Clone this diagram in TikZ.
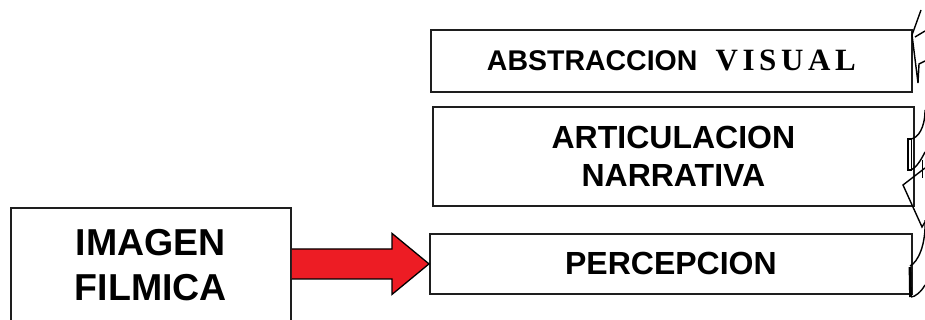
\documentclass[tikz,border=0pt]{standalone}
\usepackage{fontspec}
\setmainfont{Liberation Sans}
\newfontfamily\visfont[LetterSpace=15]{Liberation Serif}
\usetikzlibrary{calc}
\definecolor{arrowred}{HTML}{ED1C24}
\definecolor{edgegray}{HTML}{1E1E1E}
\begin{document}
\begin{tikzpicture}[x=1pt,y=-1pt,
  box/.style={draw=edgegray, line width=1.8pt, fill=white, inner sep=0pt,
              align=center, anchor=north west},
  deco/.style={draw=black, line width=1.4pt, line join=miter}]
\useasboundingbox (0,0) rectangle (925,320);
\begin{scope}
\clip (0,0) rectangle (925,320);

% source box on the left (runs past the lower edge)
\node[box, minimum width=280pt, minimum height=115pt,
      font=\bfseries\fontsize{37.5}{45}\selectfont] (img) at (10,207) {IMAGEN\\FILMICA};

% stacked boxes on the right
\node[box, minimum width=481pt, minimum height=62pt] (abs) at (430,29)
  {\bfseries\fontsize{28.5}{34}\selectfont ABSTRACCION\hspace{18pt}{\visfont\bfseries\fontsize{31}{34}\selectfont VISUAL}};
\node[box, minimum width=481pt, minimum height=99pt,
      font=\bfseries\fontsize{32}{38}\selectfont] (art) at (432,106) {ARTICULACION\\NARRATIVA};
\node[box, minimum width=482pt, minimum height=60pt,
      font=\bfseries\fontsize{32}{38}\selectfont] (perc) at (429,233) {PERCEPCION};

% block arrow from the source box to PERCEPCION
\coordinate (s) at (img.east |- perc.west);
\fill[arrowred]
  ($(s)+(0,-15)$) -- ($(perc.west)+(-37,-15)$) -- ($(perc.west)+(-37,-30.5)$) --
  (perc.west) -- ($(perc.west)+(-37,30.5)$) -- ($(perc.west)+(-37,15)$) --
  ($(s)+(0,15)$) -- cycle;
\draw[black, line width=1.3pt, line join=miter]
  ($(s)+(0,-15)$) -- ($(perc.west)+(-37,-15)$) -- ($(perc.west)+(-37,-30.5)$) --
  (perc.west) -- ($(perc.west)+(-37,30.5)$) -- ($(perc.west)+(-37,15)$) --
  ($(s)+(0,15)$);

% curved bracket pieces along the right edge
\draw[deco] (921,10) -- (912,35) -- (918,83) -- (919,64) -- (925,61);
\draw[deco] (925,31) -- (915,37);

\draw[deco] (925,110) .. controls (925,128) and (918,138) .. (911,139);
\draw[deco, line width=1.1pt] (908,139) rectangle (911.5,170);
\draw[deco] (925,152) .. controls (921,160) and (916,168) .. (911,170);
\draw[deco] (922.5,160) -- (922.5,178);
\draw[deco] (925,168) -- (903,185) -- (922,227) -- (925,222);

\draw[deco] (925,220) .. controls (926,245) and (918,262) .. (910,266);
\draw[deco, line width=2.8pt] (910,267) -- (910.5,297);
\draw[deco] (911,297) .. controls (915,297) and (921,292) .. (925,285);
\end{scope}
\end{tikzpicture}
\end{document}
